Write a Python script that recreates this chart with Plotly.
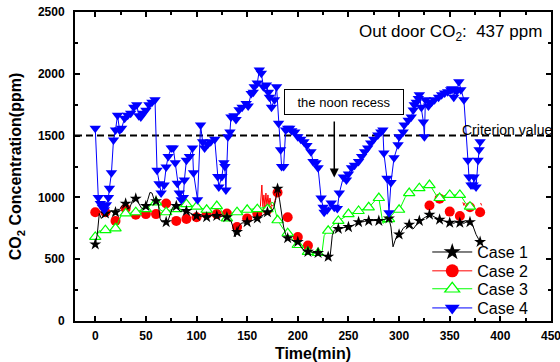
import plotly.graph_objects as go

# ---------------- data ----------------
# Case 1 and Case 3 were logged every 2 minutes; symbols are drawn every 10 minutes.
grid_time_c1 = list(range(0, 381, 2))
case1_value = [
    620, 700, 870, 830, 850, 870, 865, 880, 890, 875,
    880, 905, 900, 930, 945, 950, 905, 915, 960, 1000,
    990, 960, 935, 910, 905, 930, 985, 1040, 1035, 985,
    970, 960, 830, 800, 810, 800, 815, 870, 910, 940,
    930, 905, 885, 890, 880, 890, 880, 870, 865, 855,
    850, 860, 845, 850, 840, 840, 850, 855, 850, 845,
    850, 855, 845, 850, 840, 840, 830, 810, 760, 680,
    720, 770, 790, 795, 790, 800, 805, 810, 815, 820,
    830, 840, 850, 855, 865, 880, 890, 900, 905, 975,
    1070, 980, 880, 760, 700, 670, 665, 655, 645, 635,
    640, 610, 590, 575, 565, 560, 560, 555, 550, 550,
    550, 545, 540, 530, 525, 520, 530, 690, 735, 740,
    745, 750, 755, 760, 760, 760, 765, 770, 780, 790,
    800, 800, 800, 805, 810, 810, 810, 815, 810, 810,
    810, 815, 820, 825, 830, 830, 760, 600, 650, 690,
    700, 720, 750, 765, 775, 780, 770, 745, 770, 795,
    810, 820, 830, 840, 850, 860, 855, 845, 835, 825,
    820, 815, 810, 805, 800, 795, 795, 790, 800, 800,
    795, 795, 790, 800, 800, 800, 790, 740, 700, 670,
    640,
]

grid_time_c3 = list(range(0, 371, 2))
case3_value = [
    680, 700, 730, 725, 720, 735, 740, 730, 745, 755,
    750, 790, 830, 860, 865, 870, 875, 870, 880, 885,
    880, 890, 895, 900, 900, 905, 915, 930, 950, 955,
    960, 945, 900, 890, 885, 880, 890, 900, 905, 905,
    905, 915, 930, 935, 940, 945, 945, 935, 930, 925,
    925, 920, 915, 910, 905, 900, 905, 915, 925, 930,
    930, 925, 900, 860, 835, 830, 845, 865, 875, 880,
    880, 885, 890, 895, 900, 900, 905, 905, 905, 905,
    905, 910, 915, 920, 920, 905, 930, 960, 955, 880,
    815, 790, 760, 740, 720, 710, 690, 665, 640, 625,
    615, 600, 585, 575, 565, 560, 555, 555, 550, 550,
    550, 550, 560, 690, 715, 730, 750, 770, 785, 800,
    810, 820, 830, 845, 855, 865, 870, 875, 880, 885,
    890, 895, 900, 905, 915, 920, 935, 955, 975, 990,
    995, 880, 790, 800, 815, 825, 850, 870, 885, 895,
    900, 930, 970, 1000, 1020, 1035, 1045, 1055, 1065, 1070,
    1075, 1080, 1090, 1095, 1100, 1100, 1080, 1050, 1020, 1000,
    995, 1005, 1015, 1020, 1020, 1020, 1020, 1020, 1020, 1020,
    1020, 1000, 970, 950, 935, 925,
]

# Case 2: sampled every 10 minutes (no readings between 210 and 330 min)
case2_time = [0, 10, 20, 30, 40, 50, 60, 70, 80, 90, 100, 110, 120, 130, 140,
              150, 160, 170, 180, 190, 200, 210, 330, 340, 350, 360, 370, 380]
case2_value = [880, 880, 810, 910, 860, 865, 865, 950, 810, 825, 840, 865, 865, 870, 760,
               830, 870, 900, 1040, 840, 680, 610, 935, 990, 885, 850, 920, 880]
# Case 2 continuous trace segments
case2_line_time = [163, 164.5, 165.5, 166.5, 167.5, 168.5, 169.5, 170.5, 171.5, 172.5,
                   174, 176, 178, 180, None, 363, 364, 365, None, 380.5, 381.5]
case2_line_value = [925, 1100, 925, 1020, 925, 1035, 930, 1020, 930, 995,
                    930, 935, 990, 1040, None, 960, 935, 955, None, 955, 935]

case4_time = [0, 3, 5, 7, 9, 11, 13, 14, 16, 18, 20, 22, 24, 26, 29, 32, 35, 38, 41, 43,
              45, 47, 50, 53, 56, 59, 61, 63, 65, 68, 70, 72, 75, 77, 79, 81, 83, 85, 87, 88,
              90, 93, 96, 97, 101, 104, 106, 108, 111, 114, 118, 121, 122, 125, 127, 128, 129, 131, 133, 134,
              137, 139, 142, 145, 149, 151, 154, 156, 157, 160, 162, 164, 166, 169, 171, 172, 174, 177, 179, 181,
              183, 184, 186, 188, 190, 192, 194, 197, 200, 203, 206, 209, 213, 215, 218, 220, 223, 225, 226, 229,
              233, 236, 239, 241, 245, 248, 250, 253, 256, 260, 263, 266, 269, 272, 275, 279, 282, 284, 285, 288,
              290, 292, 295, 299, 300, 304, 305, 309, 312, 314, 315, 317, 319, 320, 322, 324, 325, 326, 329, 330,
              332, 335, 339, 342, 345, 348, 351, 352, 354, 355, 357, 359, 361, 364, 368, 369, 371, 373, 374, 376,
              378, 379, 380]
case4_value = [1560, 1000, 950, 920, 900, 940, 1000, 1075, 1200, 1465, 1545, 1665, 1545, 1560, 1640, 1665, 1680, 1730, 1750, 1660,
               1650, 1680, 1705, 1750, 1770, 1790, 1220, 1110, 1035, 1100, 1245, 1330, 1400, 1400, 1280, 1115, 1035, 980, 1000, 1140,
               1300, 1330, 1400, 1200, 980, 1585, 1450, 1400, 1430, 1450, 1470, 1170, 1085, 1170, 1280, 1250, 1060, 1490, 1530, 1650,
               1660, 1630, 1710, 1730, 1760, 1740, 1840, 1850, 1895, 1925, 2030, 2005, 1895, 1910, 1850, 1810, 1730, 1790, 1895, 1600,
               1385, 1250, 1250, 1545, 1560, 1560, 1540, 1530, 1490, 1470, 1450, 1420, 1370, 1290, 1280, 1240, 995, 920, 880, 900,
               955, 920, 910, 1035, 1165, 1140, 1190, 1240, 1260, 1290, 1330, 1370, 1400, 1440, 1470, 1505, 1530, 1545, 1360, 1155,
               875, 1120, 1320, 1425, 1490, 1530, 1585, 1625, 1650, 1707, 1750, 1770, 1800, 1830, 1730, 1610, 1490, 1790, 1740, 1770,
               1770, 1790, 1810, 1830, 1845, 1855, 1870, 1880, 1810, 1870, 1860, 1935, 1870, 1790, 1300, 1165, 1100, 1100, 1165, 1085,
               1300, 1385, 1450]

criterion = 1500
case_names = ["Case 1", "Case 2", "Case 3", "Case 4"]

# ---------------- styles ----------------
BLACK, RED, GREEN, BLUE = "#000000", "#FF0000", "#00FF00", "#0000FF"
FONT = "Arial, Liberation Sans, sans-serif"


def every_10(times, values):
    pts = [(t, v) for t, v in zip(times, values) if t % 10 == 0]
    return [p[0] for p in pts], [p[1] for p in pts]


c1_mt, c1_mv = every_10(grid_time_c1, case1_value)
c3_mt, c3_mv = every_10(grid_time_c3, case3_value)

fig = go.Figure()

# Case 2 (bottom layer)
fig.add_trace(go.Scatter(x=case2_line_time, y=case2_line_value, mode="lines",
                         line=dict(color=RED, width=1), connectgaps=False,
                         showlegend=False, hoverinfo="skip"))
fig.add_trace(go.Scatter(x=case2_time, y=case2_value, mode="markers",
                         marker=dict(symbol="circle", size=10, color=RED),
                         showlegend=False))
# Case 3
fig.add_trace(go.Scatter(x=grid_time_c3, y=case3_value, mode="lines",
                         line=dict(color=GREEN, width=1), showlegend=False))
fig.add_trace(go.Scatter(x=c3_mt, y=c3_mv, mode="markers",
                         marker=dict(symbol="triangle-up", size=10, color="white",
                                     line=dict(color=GREEN, width=1.2)),
                         showlegend=False))
# Case 1
fig.add_trace(go.Scatter(x=grid_time_c1, y=case1_value, mode="lines",
                         line=dict(color=BLACK, width=1), showlegend=False))
fig.add_trace(go.Scatter(x=c1_mt, y=c1_mv, mode="markers",
                         marker=dict(symbol="star", size=9, color=BLACK),
                         showlegend=False))
# Case 4
fig.add_trace(go.Scatter(x=case4_time, y=case4_value, mode="lines+markers",
                         line=dict(color=BLUE, width=1),
                         marker=dict(symbol="triangle-down", size=10, color=BLUE),
                         showlegend=False))

# legend entries, one legend per row
legend_styles = [
    dict(line=dict(color=BLACK, width=1), marker=dict(symbol="star", size=13, color=BLACK)),
    dict(line=dict(color=RED, width=1), marker=dict(symbol="circle", size=13, color=RED)),
    dict(line=dict(color=GREEN, width=1), marker=dict(symbol="triangle-up", size=13, color="white",
                                                      line=dict(color=GREEN, width=1.2))),
    dict(line=dict(color=BLUE, width=1), marker=dict(symbol="triangle-down", size=13, color=BLUE)),
]
legend_keys = ["legend", "legend2", "legend3", "legend4"]
legend_rows_y = [0.223, 0.162, 0.104, 0.042]
for name, style, key in zip(case_names, legend_styles, legend_keys):
    fig.add_trace(go.Scatter(x=[None], y=[None], mode="lines+markers", name=name,
                             legend=key, **style))

legend_common = dict(x=0.740, xanchor="left", yanchor="middle", bgcolor="rgba(0,0,0,0)",
                     font=dict(family=FONT, size=16, color=BLACK), itemwidth=40,
                     borderwidth=0, tracegroupgap=0)
layout_legends = {key: dict(y=y, **legend_common) for key, y in zip(legend_keys, legend_rows_y)}

# criterion line
fig.add_shape(type="line", xref="paper", x0=0, x1=1, yref="y", y0=criterion, y1=criterion,
              line=dict(color=BLACK, width=2, dash="7px,4px"), layer="below")

axis_common = dict(showline=True, linewidth=2, linecolor=BLACK, mirror="allticks",
                   ticks="inside", ticklen=5, tickwidth=1.5, tickcolor=BLACK,
                   showgrid=False, zeroline=False, automargin=False,
                   ticklabeloverflow="allow",
                   tickfont=dict(family=FONT, size=12, color=BLACK, weight="bold"))

fig.update_layout(
    width=560, height=362,
    margin=dict(l=75, r=9, t=12, b=41, autoexpand=False),
    paper_bgcolor="white", plot_bgcolor="white",
    font=dict(family=FONT, color=BLACK),
    xaxis=dict(range=[-20, 450], tickvals=list(range(0, 451, 50)),
               minor=dict(dtick=25, ticks="inside", ticklen=3, tickcolor=BLACK, tickwidth=1.5),
               title=dict(text="Time(min)", standoff=6,
                          font=dict(family=FONT, size=16, color=BLACK, weight="bold")),
               ticklabelstandoff=3,
               **axis_common),
    yaxis=dict(range=[0, 2500], tickvals=list(range(0, 2501, 500)),
               minor=dict(dtick=250, ticks="inside", ticklen=3, tickcolor=BLACK, tickwidth=1.5),
               title=dict(text="CO<sub>2</sub> Concentration(ppm)", standoff=12,
                          font=dict(family=FONT, size=16, color=BLACK, weight="bold")),
               ticklabelstandoff=6,
               **axis_common),
    **layout_legends,
    annotations=[
        dict(text="Out door CO<sub>2</sub>:\u00a0 437 ppm", xref="paper", yref="paper",
             x=0.985, y=0.932, xanchor="right", yanchor="middle", showarrow=False,
             font=dict(family=FONT, size=17, color=BLACK)),
        dict(text="Criterion value", xref="x", yref="y", x=360, y=1545,
             xanchor="left", yanchor="middle", showarrow=False,
             font=dict(family=FONT, size=14, color=BLACK)),
        dict(text="the noon recess", xref="x", yref="y", x=246, y=1772,
             xanchor="center", yanchor="middle", showarrow=False,
             width=116, height=22, borderpad=1, bordercolor=BLACK, borderwidth=1,
             bgcolor="white", font=dict(family=FONT, size=13, color=BLACK)),
        dict(text="", xref="x", yref="y", x=236, y=1160, axref="x", ayref="y",
             ax=236, ay=1626, showarrow=True, arrowhead=2, arrowsize=1.2,
             arrowwidth=1.5, arrowcolor=BLACK),
    ],
)

fig.write_html("out.html")
